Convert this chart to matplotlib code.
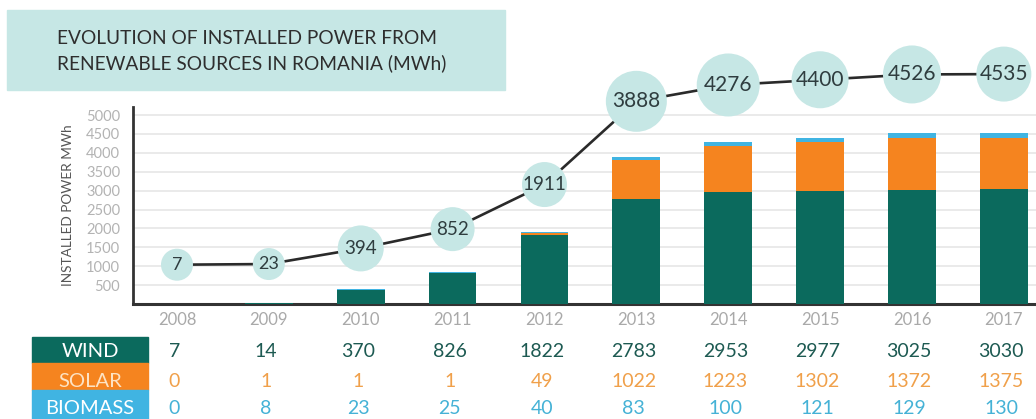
import matplotlib
matplotlib.use("Agg")
import matplotlib.pyplot as plt
from matplotlib.patches import Rectangle
from matplotlib.transforms import blended_transform_factory
import numpy as np

# ---------------- data ----------------
years = ["2008", "2009", "2010", "2011", "2012", "2013", "2014", "2015", "2016", "2017"]
wind = [7, 14, 370, 826, 1822, 2783, 2953, 2977, 3025, 3030]
solar = [0, 1, 1, 1, 49, 1022, 1223, 1302, 1372, 1375]
biomass = [0, 8, 23, 25, 40, 83, 100, 121, 129, 130]
total = [7, 23, 394, 852, 1911, 3888, 4276, 4400, 4526, 4535]
row_labels = ["WIND", "SOLAR", "BIOMASS"]
yticks = [500, 1000, 1500, 2000, 2500, 3000, 3500, 4000, 4500, 5000]

# ---------------- style ----------------
C_WIND = "#0b6a5d"
C_SOLAR = "#f5841f"
C_BIO = "#40b4e2"
C_BUBBLE = "#c6e7e5"
C_TITLEBOX = "#c6e7e5"
FONT = ["Lato", "DejaVu Sans"]
plt.rcParams["font.family"] = FONT

W, H = 1036, 419
fig = plt.figure(figsize=(W / 100, H / 100), dpi=100)


def fx(px):
    return px / W


def fy(py):
    return 1 - py / H


# bar axes
ax_left, ax_right, ax_top, ax_bot = 132.7, 1036, 107, 304
ax = fig.add_axes([fx(ax_left), fy(ax_bot), fx(ax_right - ax_left), (ax_bot - ax_top) / H])
x = np.arange(len(years))
xl = (-0.482, 9.35)
ax.set_xlim(*xl)
ax.set_ylim(0, 5212)
bw = 0.52
ax.bar(x, wind, bw, color=C_WIND, zorder=3)
ax.bar(x, solar, bw, bottom=wind, color=C_SOLAR, zorder=3)
ax.bar(x, biomass, bw, bottom=np.array(wind) + np.array(solar), color=C_BIO, zorder=3)

ax.set_yticks(yticks)
ax.set_yticklabels([str(t) for t in yticks], color="#b3b3b3", fontsize=10.5)
ax.tick_params(axis="y", length=0, pad=9)
ax.set_xticks(x)
ax.set_xticklabels(years, color="#a9a9a9", fontsize=12)
ax.tick_params(axis="x", length=0, pad=6)
ax.grid(axis="y", color="#e6e6e6", linewidth=1.2, zorder=0)
for s in ["top", "right"]:
    ax.spines[s].set_visible(False)
ax.spines["left"].set_color("#333333")
ax.spines["left"].set_linewidth(2)
ax.spines["bottom"].set_color("#333333")
ax.spines["bottom"].set_linewidth(2.2)
ax.set_ylabel("INSTALLED POWER MWh", fontsize=9.8, color="#555555", labelpad=9)

# line axes (separate scale, overlayed)
l_top, l_bot = 30, 304
slope, icpt = 0.0421, 265.0
lax = fig.add_axes([fx(ax_left), fy(l_bot), fx(ax_right - ax_left), (l_bot - l_top) / H])
lax.set_xlim(*xl)
lax.set_ylim((icpt - l_bot) / slope, (icpt - l_top) / slope)
lax.axis("off")
lax.plot(x, total, color="#2a2a2a", linewidth=1.9, zorder=2, clip_on=False)
diam_px = [32, 32, 46, 44, 45, 61, 63, 57, 58, 55]
txt_size = [13, 13, 13.5, 13.5, 13.5, 15, 15, 15, 15, 15]
lax.scatter(x, total, s=[(d * 0.72) ** 2 for d in diam_px], color=C_BUBBLE,
            zorder=4, clip_on=False, linewidths=0)
for xi, v, ts in zip(x, total, txt_size):
    lax.text(xi, v, str(v), ha="center", va="center", fontsize=ts,
             color="#2f3d3f", zorder=5, clip_on=False)

# title box
fig.patches.append(Rectangle((fx(7), fy(90)), fx(498), 80 / H, transform=fig.transFigure,
                             color=C_TITLEBOX, zorder=0))
fig.text(fx(57), fy(38), "EVOLUTION OF INSTALLED POWER FROM", fontsize=13.8,
         color="#2e2e2e", va="center", ha="left")
fig.text(fx(57), fy(63), "RENEWABLE SOURCES IN ROMANIA (MWh)", fontsize=13.8,
         color="#2e2e2e", va="center", ha="left")

# table
rows = [wind, solar, biomass]
box_cols = [C_WIND, C_SOLAR, C_BIO]
lab_cols = ["#ffffff", "#fde3c4", "#ffffff"]
val_cols = ["#1d5a52", "#f0a04a", "#45b2d6"]
row_top = [337, 363, 390]
row_h = [26, 27, 29]
row_cy = [351.5, 381.5, 408]
trans = blended_transform_factory(ax.transData, fig.transFigure)
for r in range(3):
    fig.patches.append(Rectangle((fx(32), fy(row_top[r] + row_h[r])), fx(116), row_h[r] / H,
                                 transform=fig.transFigure, color=box_cols[r], zorder=0))
    fig.text(fx(90), fy(row_cy[r]), row_labels[r], fontsize=14.5, color=lab_cols[r],
             ha="center", va="center")
    for xi, v in zip(x, rows[r]):
        fig.text(xi - 0.03, fy(row_cy[r]), str(v), transform=trans, fontsize=14,
                 color=val_cols[r], ha="center", va="center")

fig.savefig("out.png", dpi=100)
